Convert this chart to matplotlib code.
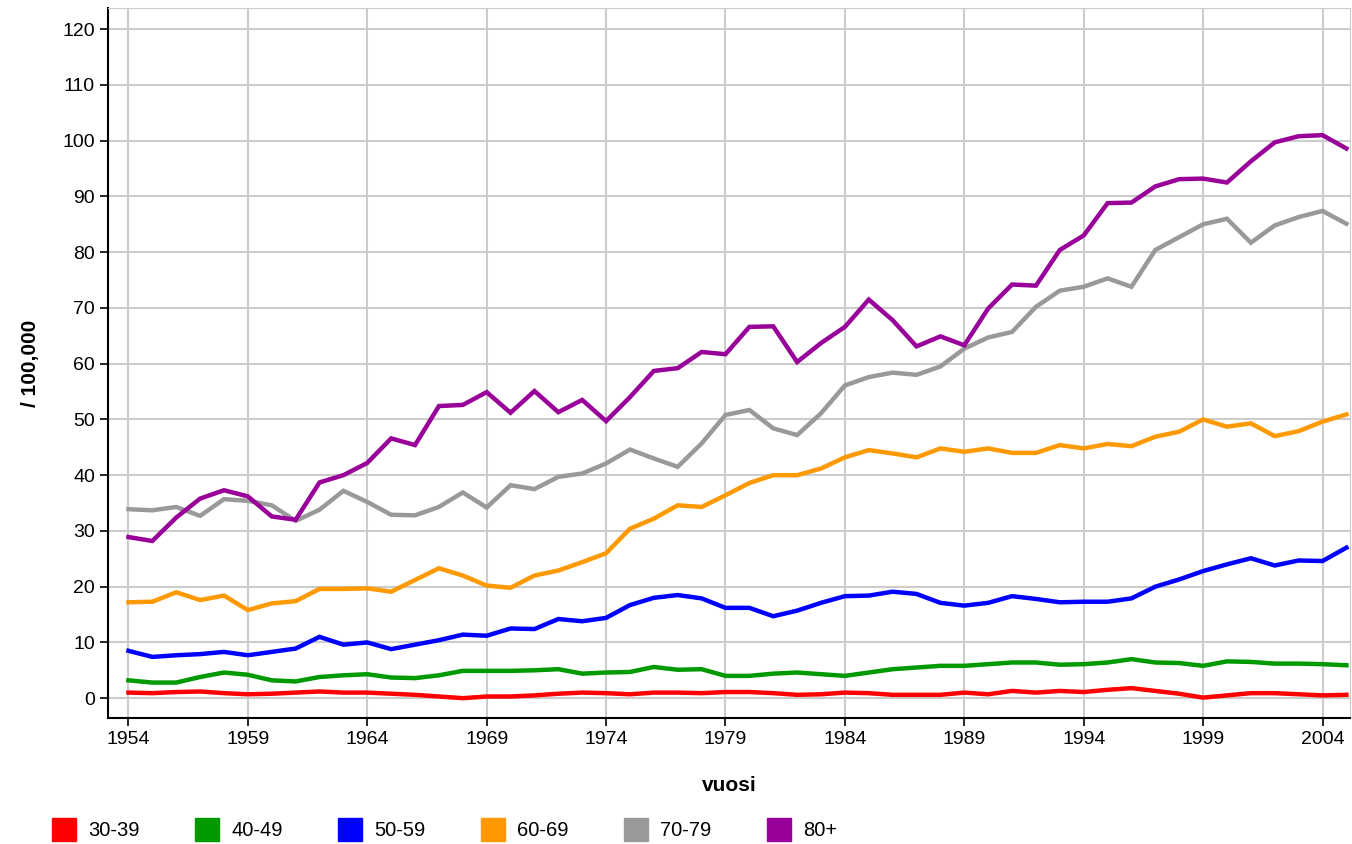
import numpy as np
import matplotlib
matplotlib.use("Agg")
import matplotlib.pyplot as plt
from matplotlib.patches import Patch

plt.rcParams["font.family"] = ["Liberation Sans", "DejaVu Sans"]

years = list(range(1954, 2006))

age_30_39 = [1.0, 0.9, 1.1, 1.2, 0.9, 0.7, 0.8, 1.0, 1.2, 1.0,
             1.0, 0.8, 0.6, 0.3, 0.0, 0.3, 0.3, 0.5, 0.8, 1.0,
             0.9, 0.7, 1.0, 1.0, 0.9, 1.1, 1.1, 0.9, 0.6, 0.7,
             1.0, 0.9, 0.6, 0.6, 0.6, 1.0, 0.7, 1.3, 1.0, 1.3,
             1.1, 1.5, 1.8, 1.3, 0.8, 0.1, 0.5, 0.9, 0.9, 0.7,
             0.5, 0.6]
age_40_49 = [3.2, 2.8, 2.8, 3.8, 4.6, 4.2, 3.2, 3.0, 3.8, 4.1,
             4.3, 3.7, 3.6, 4.1, 4.9, 4.9, 4.9, 5.0, 5.2, 4.4,
             4.6, 4.7, 5.6, 5.1, 5.2, 4.0, 4.0, 4.4, 4.6, 4.3,
             4.0, 4.6, 5.2, 5.5, 5.8, 5.8, 6.1, 6.4, 6.4, 6.0,
             6.1, 6.4, 7.0, 6.4, 6.3, 5.8, 6.6, 6.5, 6.2, 6.2,
             6.1, 5.9]
age_50_59 = [8.5, 7.4, 7.7, 7.9, 8.3, 7.7, 8.3, 8.9, 11.0, 9.6,
             10.0, 8.8, 9.6, 10.4, 11.4, 11.2, 12.5, 12.4, 14.2, 13.8,
             14.4, 16.7, 18.0, 18.5, 17.9, 16.2, 16.2, 14.7, 15.7, 17.1,
             18.3, 18.4, 19.1, 18.7, 17.1, 16.6, 17.1, 18.3, 17.8, 17.2,
             17.3, 17.3, 17.9, 20.0, 21.3, 22.8, 24.0, 25.1, 23.8, 24.7,
             24.6, 27.0]
age_60_69 = [17.2, 17.3, 19.0, 17.6, 18.4, 15.8, 17.0, 17.4, 19.6, 19.6,
             19.7, 19.1, 21.2, 23.3, 22.0, 20.2, 19.8, 22.0, 22.9, 24.4,
             26.0, 30.4, 32.2, 34.6, 34.3, 36.4, 38.6, 40.0, 40.0, 41.2,
             43.2, 44.5, 43.9, 43.2, 44.8, 44.2, 44.8, 44.0, 44.0, 45.4,
             44.8, 45.6, 45.2, 46.9, 47.8, 50.0, 48.7, 49.3, 47.0, 47.9,
             49.6, 50.9]
age_70_79 = [33.9, 33.7, 34.3, 32.7, 35.7, 35.4, 34.6, 31.8, 33.8, 37.2,
             35.2, 32.9, 32.8, 34.3, 36.9, 34.2, 38.2, 37.5, 39.7, 40.3,
             42.1, 44.6, 43.0, 41.5, 45.7, 50.8, 51.7, 48.4, 47.2, 51.1,
             56.1, 57.6, 58.4, 58.0, 59.5, 62.7, 64.7, 65.7, 70.2, 73.1,
             73.8, 75.3, 73.8, 80.4, 82.7, 85.0, 86.0, 81.7, 84.8, 86.3,
             87.4, 85.1]
age_80_plus = [28.9, 28.2, 32.4, 35.8, 37.3, 36.2, 32.6, 32.0, 38.7, 40.0,
               42.2, 46.6, 45.4, 52.4, 52.6, 54.9, 51.2, 55.1, 51.3, 53.5,
               49.7, 54.0, 58.7, 59.2, 62.1, 61.7, 66.6, 66.7, 60.3, 63.7,
               66.6, 71.5, 67.8, 63.1, 64.9, 63.3, 69.9, 74.2, 74.0, 80.4,
               83.0, 88.8, 88.9, 91.8, 93.1, 93.2, 92.5, 96.3, 99.7, 100.8,
               101.0, 98.6]

labels = ["30-39", "40-49", "50-59", "60-69", "70-79", "80+"]
series = [age_30_39, age_40_49, age_50_59, age_60_69, age_70_79, age_80_plus]
colors = ["#ff0000", "#009900", "#0000ff", "#ff9900", "#999999", "#990099"]

fig = plt.figure(figsize=(13.52, 8.44), dpi=100)
ax = fig.add_axes([0.080, 0.149, 0.9185, 0.8415])

for vals, c, lab in zip(series, colors, labels):
    ax.plot(years, vals, color=c, lw=3.2, label=lab, solid_joinstyle="miter")

ax.set_xlim(1953.15, 2005.15)
ax.set_ylim(-3.6, 123.8)
ax.set_xticks(range(1954, 2005, 5))
ax.set_yticks(range(0, 121, 10))
ax.grid(True, color="#cccccc", lw=1.5)
ax.set_axisbelow(True)
ax.tick_params(labelsize=14, length=6, width=1.2, direction="out", colors="black")
for s in ["top", "right"]:
    ax.spines[s].set_color("#cccccc")
for s in ["left", "bottom"]:
    ax.spines[s].set_linewidth(1.5)

ax.set_xlabel("vuosi", fontsize=15, fontweight="bold", labelpad=20)
ax.set_ylabel("/ 100,000", fontsize=15, fontweight="bold", labelpad=16)

handles = [Patch(facecolor=c, edgecolor=c) for c in colors]
fig.legend(handles, labels, loc="lower left", bbox_to_anchor=(0.025, -0.018),
           ncol=6, frameon=False, fontsize=14.5, handlelength=1.2, handleheight=1.4,
           handletextpad=0.6, columnspacing=2.75)

fig.savefig("out.png", dpi=100)
